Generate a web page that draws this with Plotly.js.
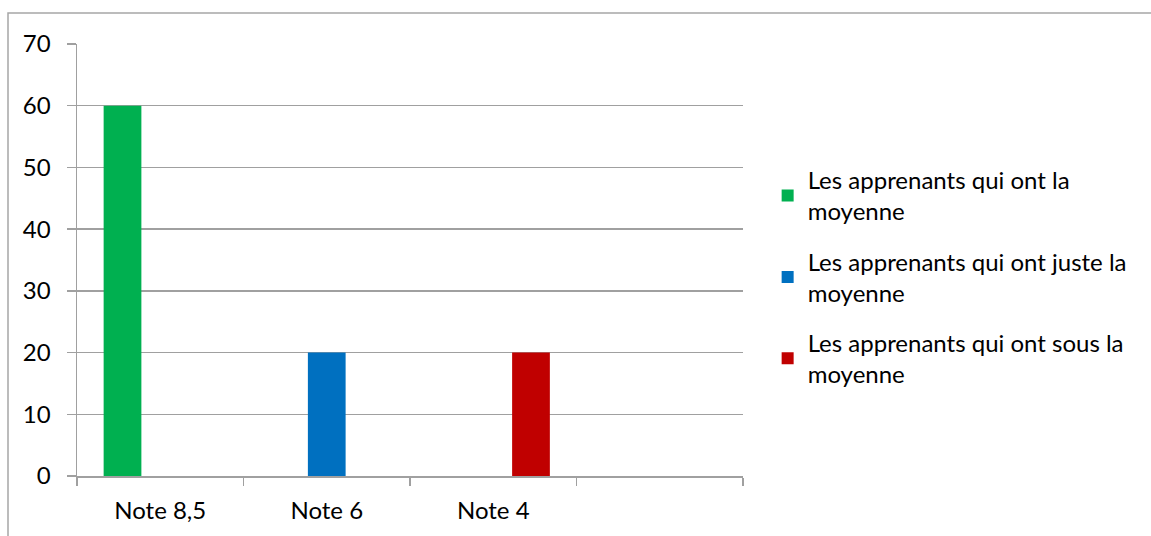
<!DOCTYPE html>
<html>
<head>
<meta charset="utf-8">
<script src="https://cdn.plot.ly/plotly-3.0.1.min.js"></script>
<style>
html,body{margin:0;padding:0;background:#fff;}
#chart{width:1151px;height:536px;}
</style>
</head>
<body>
<div id="chart"></div>
<script>
const categories = ["Note 8,5", "Note 6", "Note 4", ""];
const seriesNames = [
  "Les apprenants qui ont la<br>moyenne",
  "Les apprenants qui ont juste la<br>moyenne",
  "Les apprenants qui ont sous la<br>moyenne"
];
const seriesColors = ["#00b050", "#0070c0", "#c00000"];
const valuesMoyenne = [60, null, null, null];
const valuesJuste = [null, 20, null, null];
const valuesSous = [null, null, 20, null];
const yTicks = [0, 10, 20, 30, 40, 50, 60, 70];

const xIdx = categories.map((c, i) => i);
const allValues = [valuesMoyenne, valuesJuste, valuesSous];
const FONT = "Lato, 'Liberation Sans', sans-serif";
const FS = 24;
const GRID = "#a0a0a0";

const traces = allValues.map((vals, k) => ({
  type: "bar",
  name: seriesNames[k],
  x: xIdx,
  y: vals,
  marker: {color: seriesColors[k]},
  legendgroup: "g" + k,
  hoverinfo: "none"
}));

const layout = {
  width: 1151,
  height: 536,
  margin: {l: 77, r: 408, t: 44, b: 60},
  paper_bgcolor: "#ffffff",
  plot_bgcolor: "#ffffff",
  font: {family: FONT, size: FS, color: "#000000"},
  barmode: "group",
  bargap: 0.32,
  bargroupgap: 0,
  showlegend: true,
  legend: {
    x: 1.037, xanchor: "left",
    y: 0.46, yanchor: "middle",
    font: {family: FONT, size: FS, color: "#000"},
    tracegroupgap: 16,
    traceorder: "grouped"
  },
  xaxis: {
    range: [-0.5, categories.length - 0.5],
    tickvals: xIdx,
    ticktext: categories,
    ticks: "",
    showgrid: false,
    zeroline: false,
    showline: true,
    linecolor: GRID,
    linewidth: 1.5,
    ticklabelstandoff: 13,
    tickfont: {family: FONT, size: FS},
    minor: {
      tickmode: "linear",
      tick0: -0.5,
      dtick: 1,
      ticks: "outside",
      ticklen: 8,
      tickwidth: 1.5,
      tickcolor: GRID,
      showgrid: false
    },
    fixedrange: true
  },
  yaxis: {
    range: [0, 70],
    tickvals: yTicks,
    ticktext: yTicks.map(String),
    ticks: "outside",
    ticklen: 9,
    tickwidth: 1.5,
    tickcolor: GRID,
    showgrid: true,
    gridcolor: GRID,
    gridwidth: 1.5,
    zeroline: false,
    showline: true,
    linecolor: GRID,
    linewidth: 1.5,
    ticklabelstandoff: 11,
    tickfont: {family: FONT, size: FS},
    fixedrange: true
  },
  shapes: [{
    type: "rect",
    xref: "paper", yref: "paper",
    x0: (8 - 77) / 666, x1: (1170 - 77) / 666,
    y0: (476 - 560) / 432, y1: (476 - 13) / 432,
    line: {color: "#a6a6a6", width: 1.5},
    fillcolor: "rgba(0,0,0,0)",
    layer: "below"
  }]
};

Plotly.newPlot("chart", traces, layout, {displayModeBar: false, staticPlot: true});
</script>
</body>
</html>
